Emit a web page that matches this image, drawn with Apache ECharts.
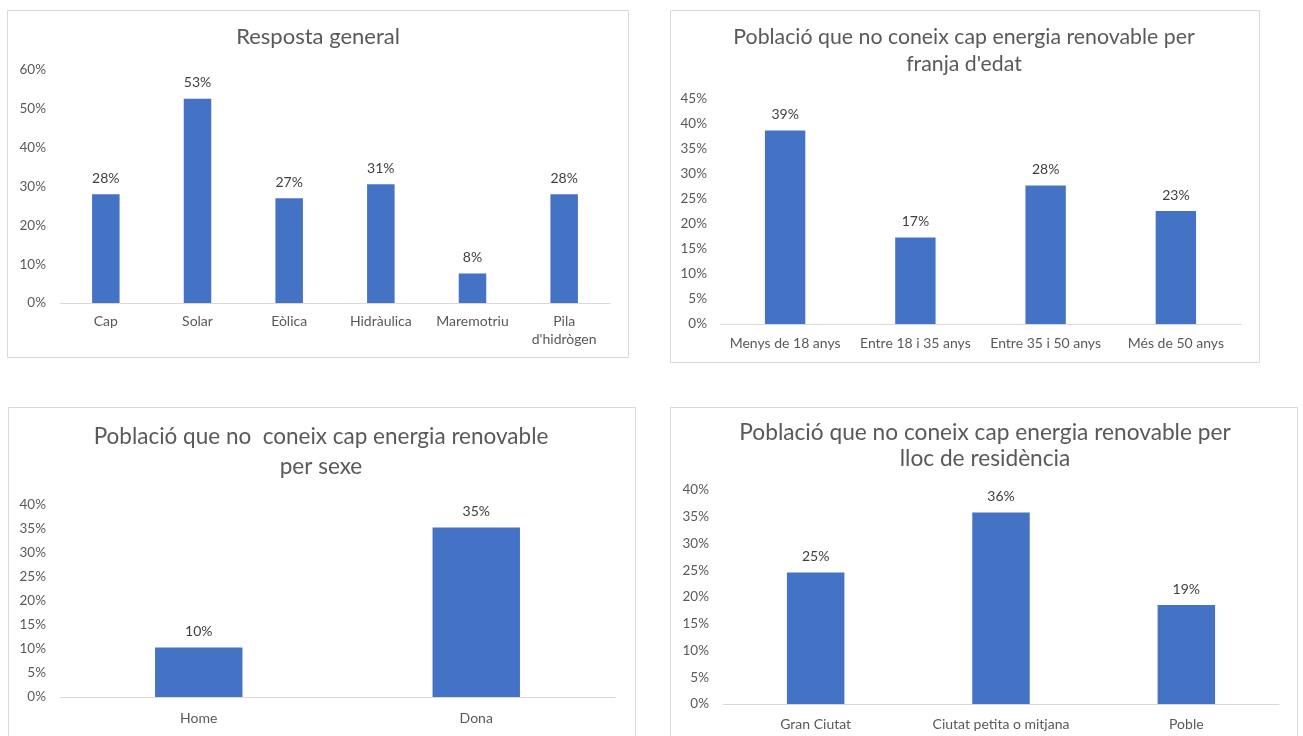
<!DOCTYPE html>
<html>
<head>
<meta charset="utf-8">
<script src="https://cdn.jsdelivr.net/npm/echarts@6/dist/echarts.min.js"></script>
<style>
  html, body { margin: 0; padding: 0; background: #fff; }
  #chart { width: 1303px; height: 736px; }
</style>
</head>
<body>
<div id="chart"></div>
<script>
// Resposta general
const catGeneral = ['Cap', 'Solar', 'Eòlica', 'Hidràulica', 'Maremotriu', "Pila\nd'hidrògen"];
const valGeneral = [28.0, 52.6, 27.0, 30.6, 7.6, 28.0];

// Per franja d'edat
const catEdat = ['Menys de 18 anys', 'Entre 18 i 35 anys', 'Entre 35 i 50 anys', 'Més de 50 anys'];
const valEdat = [38.7, 17.3, 27.7, 22.6];

// Per sexe
const catSexe = ['Home', 'Dona'];
const valSexe = [10.3, 35.3];

// Per lloc de residència
const catLloc = ['Gran Ciutat', 'Ciutat petita o mitjana', 'Poble'];
const valLloc = [24.6, 35.8, 18.5];

const titles = [
  'Resposta general',
  "Població que no coneix cap energia renovable per\nfranja d'edat",
  'Població que no  coneix cap energia renovable\nper sexe',
  'Població que no coneix cap energia renovable per\nlloc de residència'
];

const FONT = 'Lato, "Open Sans", sans-serif';
const BLUE = '#4472c4';
const TXT = '#595959';

const panels = [
  { cats: catGeneral, vals: valGeneral, max: 60, step: 10,
    grid: { left: 60, top: 70, width: 550, height: 233 }, bw: '30%', ym: 14, xm: 9.5,
    title: { x: 318, y: 23, size: 22, lh: 28 }, box: [7, 10, 621, 347] },
  { cats: catEdat, vals: valEdat, max: 45, step: 5,
    grid: { left: 720, top: 99, width: 521, height: 225 }, bw: '31%', ym: 13, xm: 10.5,
    title: { x: 964, y: 23.5, size: 21.3, lh: 27 }, box: [670, 10, 589, 352] },
  { cats: catSexe, vals: valSexe, max: 40, step: 5,
    grid: { left: 60, top: 505, width: 555, height: 192 }, bw: '31.5%', ym: 14, xm: 12.5,
    title: { x: 321, y: 422, size: 22.5, lh: 30 }, box: [8, 407, 627, 360] },
  { cats: catLloc, vals: valLloc, max: 40, step: 5,
    grid: { left: 723, top: 490, width: 556, height: 214 }, bw: '31%', ym: 14, xm: 11,
    title: { x: 985, y: 420, size: 22.7, lh: 26 }, box: [670, 407, 627, 360] }
];

const option = {
  backgroundColor: '#ffffff',
  animation: false,
  textStyle: { fontFamily: FONT },
  title: panels.map((p, i) => ({
    text: titles[i],
    left: p.title.x, top: p.title.y, textAlign: 'center', padding: 0,
    textStyle: { fontFamily: FONT, fontSize: p.title.size, fontWeight: 'normal',
                 color: TXT, lineHeight: p.title.lh }
  })),
  graphic: panels.map(p => ({
    type: 'rect', silent: true, z: -1,
    shape: { x: p.box[0] + 0.5, y: p.box[1] + 0.5, width: p.box[2], height: p.box[3] },
    style: { fill: 'none', stroke: '#d9d9d9', lineWidth: 1 }
  })),
  grid: panels.map(p => Object.assign({ containLabel: false }, p.grid)),
  xAxis: panels.map((p, i) => ({
    type: 'category', gridIndex: i, data: p.cats,
    axisTick: { show: false },
    axisLine: { lineStyle: { color: '#d9d9d9', width: 1 } },
    axisLabel: { color: TXT, fontSize: 14, fontFamily: FONT, margin: p.xm, interval: 0, lineHeight: 18 }
  })),
  yAxis: panels.map((p, i) => ({
    type: 'value', gridIndex: i, min: 0, max: p.max, interval: p.step,
    splitLine: { show: false },
    axisLine: { show: false }, axisTick: { show: false },
    axisLabel: { color: TXT, fontSize: 13.5, fontFamily: FONT, margin: p.ym,
                 formatter: v => v + '%' }
  })),
  series: panels.map((p, i) => ({
    type: 'bar', xAxisIndex: i, yAxisIndex: i, data: p.vals,
    barWidth: p.bw,
    itemStyle: { color: BLUE },
    label: { show: true, position: 'top', distance: 9, color: '#404040', fontSize: 14,
             fontFamily: FONT, formatter: d => Math.round(d.value) + '%' }
  }))
};

const chart = echarts.init(document.getElementById('chart'), null, { renderer: 'canvas' });
chart.setOption(option);
</script>
</body>
</html>
